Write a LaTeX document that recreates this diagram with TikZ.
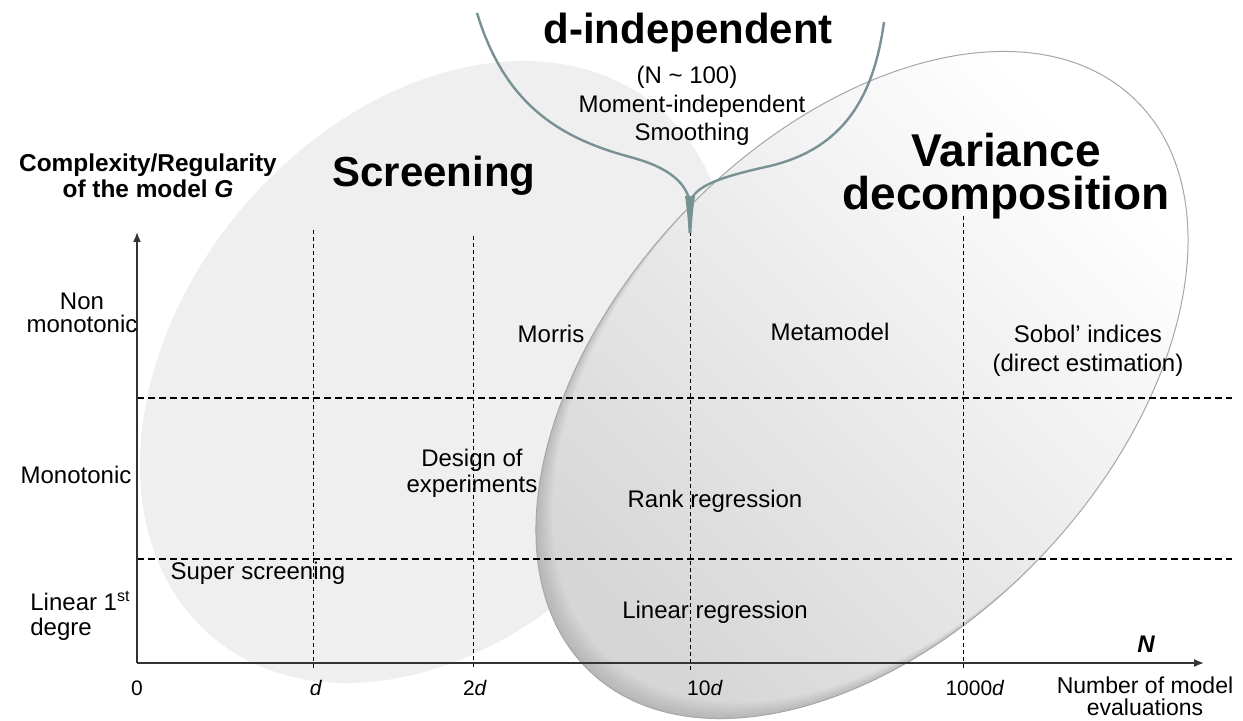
\documentclass[tikz,border=0pt]{standalone}
\usepackage{fontspec}
\setmainfont{Liberation Sans}
\usetikzlibrary{arrows.meta}
\definecolor{curvec}{RGB}{120,145,148}
\definecolor{scrfill}{RGB}{239,239,239}
\begin{document}
\begin{tikzpicture}[x=0.5pt,y=-0.5pt,
  lbl/.style={font=\fontsize{12}{13}\selectfont, align=center, inner sep=0pt, anchor=base},
  ttl/.style={font=\fontsize{21}{22}\bfseries\selectfont, align=center, inner sep=0pt, anchor=base},
  tck/.style={font=\fontsize{10.5}{12}\selectfont, inner sep=0pt, anchor=base},
  hgrid/.style={black, line width=0.55pt, dash pattern=on 3.5pt off 2pt},
  vgrid/.style={black, line width=0.5pt, dash pattern=on 2pt off 1.5pt},
  axisline/.style={black!80, line width=0.8pt, -{Latex[length=5pt,width=4pt]}},
  dcurve/.style={curvec, line width=1.2pt},
]
\path[use as bounding box] (0,0) rectangle (1243,721);
\fill[white] (0,0) rectangle (1243,721);

% Screening region
\fill[scrfill, rotate around={50:(435,372)}] (435,372) ellipse [x radius=173pt, y radius=126.5pt];

% Variance decomposition region
\begin{scope}
  \clip[rotate around={46.5:(862,385)}] (862,385) ellipse [x radius=197.5pt, y radius=124pt];
  \shade[top color=white, middle color=black!6, bottom color=black!16, shading angle=-45] (534,50) rectangle (1190,722);
  \foreach \s in {2,4,...,16} {
    \fill[black, opacity=0.016, even odd rule, rotate around={46.5:(862+\s,385-\s)}]
      (-1000,-1000) rectangle (3000,3000)
      (862+\s,385-\s) ellipse [x radius=197.5pt, y radius=124pt];
  }
\end{scope}
\draw[black!35, line width=0.5pt, rotate around={46.5:(862,385)}] (862,385) ellipse [x radius=197.5pt, y radius=124pt];

% grid
\coordinate (h1a) at (137,398); \coordinate (h1b) at (1232,398);
\coordinate (h2a) at (137,559); \coordinate (h2b) at (1232,559);
\coordinate (v1a) at (313,230); \coordinate (v1b) at (313,670);
\coordinate (v2a) at (473,236); \coordinate (v2b) at (473,670);
\coordinate (v3a) at (690,232); \coordinate (v3b) at (690,670);
\coordinate (v4a) at (963,216); \coordinate (v4b) at (963,670);
\draw[hgrid] (h1a) -- (h1b);
\draw[hgrid] (h2a) -- (h2b);
\draw[vgrid] (v1a) -- (v1b);
\draw[vgrid] (v2a) -- (v2b);
\draw[vgrid] (v3a) -- (v3b);
\draw[vgrid] (v4a) -- (v4b);

% axes
\coordinate (O) at (137,663);
\coordinate (Ytip) at (137,232);
\coordinate (Xtip) at (1204,663);
\draw[axisline] (O) -- (Ytip);
\draw[axisline] (O) -- (Xtip);

% d-independent funnel
\coordinate (dL) at (477,13);
\coordinate (dR) at (884,22);
\coordinate (dJ) at (690,203);
\draw[dcurve] (dL) .. controls (505,105) and (560,138) .. (630,157) .. controls (672,168) and (687,185) .. (dJ);
\draw[dcurve] (dR) .. controls (874,95) and (845,148) .. (770,166) .. controls (720,177) and (694,186) .. (dJ);
\fill[curvec] (685,196) .. controls (687,210) and (688,220) .. (688.5,233) -- (691.5,233) .. controls (692,220) and (693,210) .. (695,196) -- cycle;

% titles (multi-line nodes: base = baseline of last line)
\node[ttl] (tdind) at (688,44) {d-independent};
\node[lbl] (tNrange) at (687,84) {(N \textasciitilde{} 100)};
\node[lbl, font=\fontsize{12}{14}\selectfont] (tmom) at (692,141) {Moment-independent\\Smoothing};
\node[ttl] (tscr) at (434,187) {Screening};
\node[ttl, font=\fontsize{23}{21.5}\bfseries\selectfont] (tvar) at (1006,210) {Variance\\decomposition};

% axis titles
\node[lbl, font=\fontsize{12.2}{13}\bfseries\selectfont] (tcomp) at (148,198) {Complexity/Regularity\\of the model \textit{G}};
\node[lbl, font=\fontsize{12}{11.5}\selectfont] (tnon) at (82,333) {Non\\monotonic};
\node[lbl] (tmono) at (76,484) {Monotonic};
\node[lbl, align=left, font=\fontsize{12}{12.5}\selectfont, anchor=base west] (tlin) at (30,635) {Linear 1\textsuperscript{st}\\degre};

% method labels
\node[lbl] (tsuper) at (258,580) {Super screening};
\node[lbl] (tdoe) at (472,493) {Design of\\experiments};
\node[lbl] (tmorris) at (551,343) {Morris};
\node[lbl] (tmeta) at (830,341) {Metamodel};
\node[lbl, font=\fontsize{12}{14.5}\selectfont] (tsobol) at (1088,372) {Sobol' indices\\(direct estimation)};
\node[lbl] (trank) at (715,508) {Rank regression};
\node[lbl] (tlinreg) at (715,618) {Linear regression};

% ticks
\node[tck] (k0) at (137,695) {0};
\node[tck] (k1) at (316,695) {\textit{d}};
\node[tck] (k2) at (475,695) {2\textit{d}};
\node[tck] (k3) at (705,695) {10\textit{d}};
\node[tck] (k4) at (975,695) {1000\textit{d}};

% x axis title
\node[lbl, font=\fontsize{12}{13}\bfseries\itshape\selectfont] (tN) at (1146,653) {N};
\node[lbl, font=\fontsize{11.5}{11}\selectfont] (tnum) at (1145,715) {Number of model\\evaluations};
\end{tikzpicture}
\end{document}
